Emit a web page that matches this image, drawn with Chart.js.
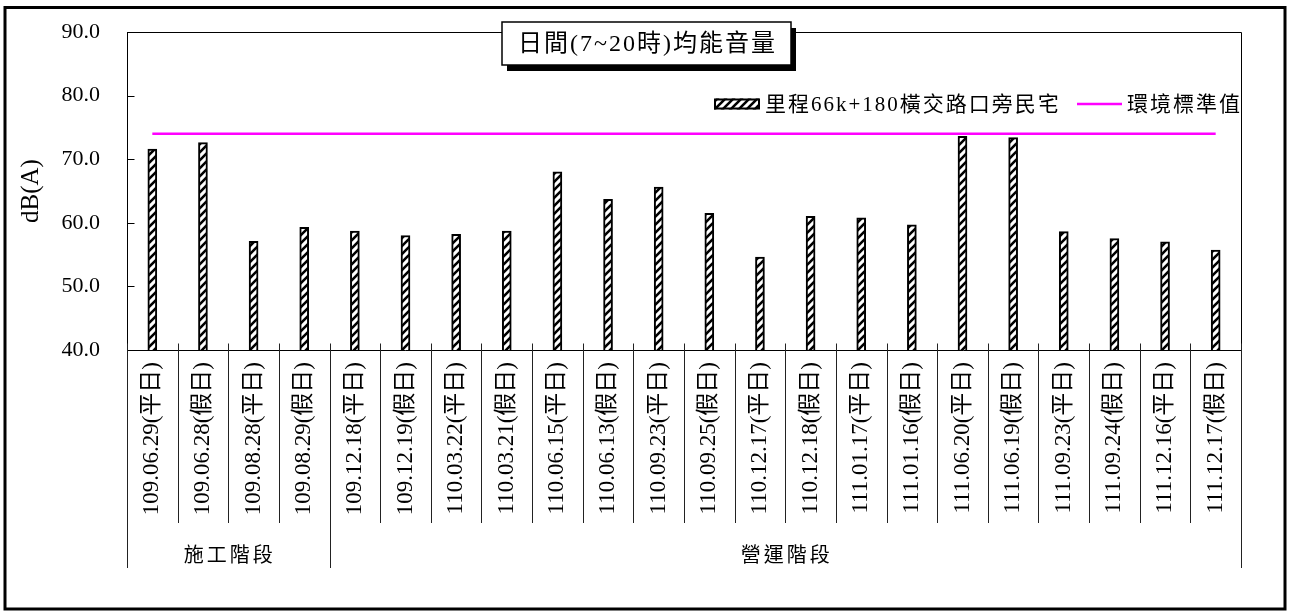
<!DOCTYPE html>
<html>
<head>
<meta charset="utf-8">
<script src="https://cdn.jsdelivr.net/npm/chart.js@4.4.1/dist/chart.umd.min.js"></script>
<style>
  body { margin: 0; background: #fff; }
  #wrap { width: 1290px; height: 612px; }
</style>
</head>
<body>
<div id="wrap"><canvas id="noise" width="1290" height="612"></canvas></div>
<script>
// data
const categories = [
  '109.06.29(平日)', '109.06.28(假日)', '109.08.28(平日)', '109.08.29(假日)',
  '109.12.18(平日)', '109.12.19(假日)', '110.03.22(平日)', '110.03.21(假日)',
  '110.06.15(平日)', '110.06.13(假日)', '110.09.23(平日)', '110.09.25(假日)',
  '110.12.17(平日)', '110.12.18(假日)', '111.01.17(平日)', '111.01.16(假日)',
  '111.06.20(平日)', '111.06.19(假日)', '111.09.23(平日)', '111.09.24(假日)',
  '111.12.16(平日)', '111.12.17(假日)'
];
const noiseValues = [71.6, 72.6, 57.1, 59.3, 58.7, 58.0, 58.2, 58.7, 68.0, 63.7, 65.6,
                     61.5, 54.6, 61.0, 60.8, 59.7, 73.6, 73.4, 58.6, 57.5, 57.0, 55.7];
const standardValues = [74, 74, 74, 74, 74, 74, 74, 74, 74, 74, 74,
                        74, 74, 74, 74, 74, 74, 74, 74, 74, 74, 74];
const yTicks = [40, 50, 60, 70, 80, 90];
const phaseNames = ['施工階段', '營運階段'];
const phaseFirst = [0, 4];
const phaseLast = [3, 21];

const chartTitle = '日間(7~20時)均能音量';
const barLabel = '里程66k+180橫交路口旁民宅';
const lineLabel = '環境標準值';

const SERIF = "'Liberation Serif', 'Noto Sans CJK TC', serif";
const MAGENTA = '#FF00FF';

// diagonal hatch like the excel fill
function makeHatch(ctx) {
  const c = document.createElement('canvas');
  c.width = 8; c.height = 8;
  const g = c.getContext('2d');
  g.fillStyle = '#fff';
  g.fillRect(0, 0, 8, 8);
  g.strokeStyle = '#000';
  g.lineWidth = 2.6;
  g.beginPath();
  g.moveTo(-1, 9); g.lineTo(9, -1);
  g.moveTo(-3, 3); g.lineTo(3, -3);
  g.moveTo(5, 11); g.lineTo(11, 5);
  g.stroke();
  return ctx.createPattern(c, 'repeat');
}

const canvas = document.getElementById('noise');
const ctx = canvas.getContext('2d');
const hatch = makeHatch(ctx);

const decorations = {
  id: 'decorations',
  beforeDraw(chart) {
    const g = chart.ctx;
    g.save();
    g.fillStyle = '#fff';
    g.fillRect(0, 0, chart.width, chart.height);
    g.restore();
  },
  afterDraw(chart) {
    const g = chart.ctx;
    const x = chart.scales.x, y = chart.scales.y;
    const area = chart.chartArea;
    const L = Math.round(area.left) + 0.5, R = Math.round(area.right) + 0.5;
    const T = Math.round(area.top) + 0.5, B = Math.round(area.bottom) + 0.5;
    g.save();

    // outer frame
    g.strokeStyle = '#000';
    g.lineWidth = 3;
    g.strokeRect(5, 7.5, 1280, 601.5);

    // plot box top/right
    g.lineWidth = 1;
    g.beginPath();
    g.moveTo(L, T); g.lineTo(R, T); g.lineTo(R, B);
    g.stroke();

    // y ticks pointing inwards
    g.beginPath();
    yTicks.forEach(v => {
      const py = Math.round(y.getPixelForValue(v)) + 0.5;
      g.moveTo(L, py); g.lineTo(L + 7, py);
    });
    g.stroke();

    // category separators: short tick above axis, long line below
    g.strokeStyle = '#222';
    g.beginPath();
    for (let i = 0; i <= categories.length; i++) {
      const px = Math.round(x.getPixelForValue(i - 0.5)) + 0.5;
      const isPhaseEdge = i === 0 || i === categories.length || phaseFirst.includes(i);
      g.moveTo(px, B - 7);
      g.lineTo(px, isPhaseEdge ? 568 : 523);
    }
    g.stroke();

    // phase labels
    g.fillStyle = '#000';
    g.font = "20px 'Noto Sans CJK TC', sans-serif";
    g.textAlign = 'center';
    g.textBaseline = 'middle';
    g.letterSpacing = '3px';
    phaseNames.forEach((name, k) => {
      const cx = (x.getPixelForValue(phaseFirst[k]) + x.getPixelForValue(phaseLast[k])) / 2;
      g.fillText(name, cx + 1.5, 554);
    });

    // title box with drop shadow
    const bx = 502, by = 22, bw = 289, bh = 43;
    g.fillStyle = '#000';
    g.fillRect(bx + 5, by + 6, bw, bh);
    g.fillStyle = '#fff';
    g.fillRect(bx, by, bw, bh);
    g.lineWidth = 1.5;
    g.strokeStyle = '#000';
    g.strokeRect(bx, by, bw, bh);
    g.fillStyle = '#000';
    g.font = '24px ' + SERIF;
    g.letterSpacing = '2px';
    g.fillText(chartTitle, bx + bw / 2 + 1, by + bh / 2 + 1);

    // legend
    const ly = 104;
    g.fillStyle = hatch;
    g.fillRect(714, ly - 5.5, 46, 11);
    g.lineWidth = 2;
    g.strokeRect(715, ly - 4.5, 44, 9);
    g.fillStyle = '#000';
    g.font = '21px ' + SERIF;
    g.textAlign = 'left';
    g.letterSpacing = '2px';
    g.fillText(barLabel, 765, ly + 1);
    g.strokeStyle = MAGENTA;
    g.lineWidth = 2.5;
    g.beginPath();
    g.moveTo(1077, ly); g.lineTo(1122, ly);
    g.stroke();
    g.fillText(lineLabel, 1127, ly + 1);

    g.restore();
  }
};

new Chart(ctx, {
  data: {
    labels: categories,
    datasets: [
      {
        type: 'line',
        label: lineLabel,
        data: standardValues,
        borderColor: MAGENTA,
        borderWidth: 2.5,
        pointRadius: 0,
        fill: false,
        order: 0
      },
      {
        type: 'bar',
        label: barLabel,
        data: noiseValues,
        backgroundColor: hatch,
        borderColor: '#000',
        borderWidth: 2,
        barThickness: 9,
        order: 1
      }
    ]
  },
  options: {
    responsive: false,
    animation: false,
    layout: { padding: { top: 32, right: 49, left: 0, bottom: 0 } },
    plugins: {
      legend: { display: false },
      title: { display: false },
      tooltip: { enabled: false }
    },
    scales: {
      x: {
        offset: true,
        grid: { display: false, drawTicks: false },
        border: { display: true, color: '#000', width: 1 },
        ticks: {
          autoSkip: false,
          minRotation: 90,
          maxRotation: 90,
          padding: 12,
          color: '#000',
          font: { family: SERIF, size: 23 }
        },
        afterFit(scale) { scale.height = 262; }
      },
      y: {
        min: 40,
        max: 90,
        grid: { display: false, drawTicks: false },
        border: { display: true, color: '#000', width: 1 },
        ticks: {
          stepSize: 10,
          padding: 27,
          color: '#000',
          font: { family: SERIF, size: 22 },
          callback: v => v.toFixed(1)
        },
        title: {
          display: true,
          text: 'dB(A)',
          color: '#000',
          font: { family: SERIF, size: 25 },
          padding: { top: 16, bottom: 0 }
        },
        afterFit(scale) {
          scale.width = 127;
          // the label padding would otherwise push the plot top down
          scale.paddingTop = 0;
          scale.paddingBottom = 0;
        }
      }
    }
  },
  plugins: [decorations]
});
</script>
</body>
</html>
